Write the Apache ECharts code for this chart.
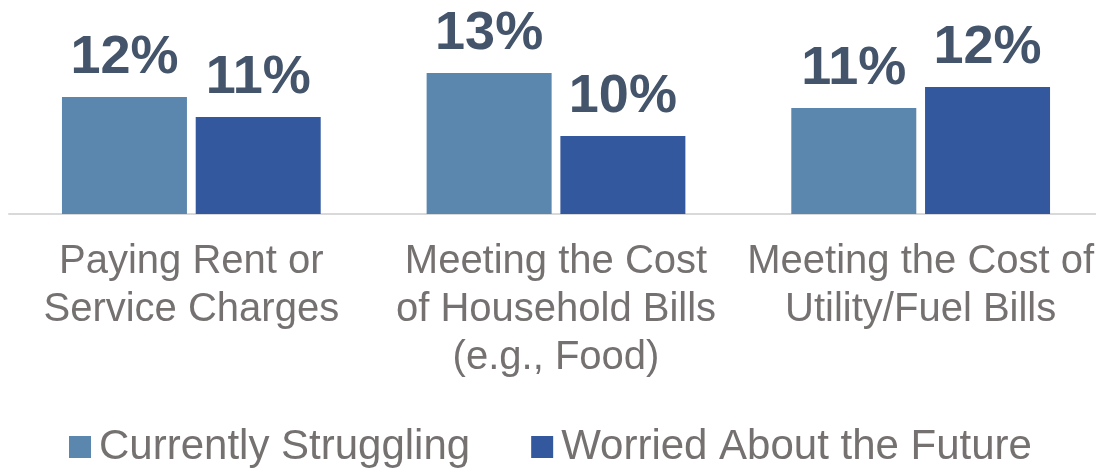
<!DOCTYPE html>
<html>
<head>
<meta charset="utf-8">
<script src="https://cdn.jsdelivr.net/npm/echarts@6/dist/echarts.min.js"></script>
<style>
html,body{margin:0;padding:0;background:#fff;overflow:hidden;}
#chart{width:1103px;height:468px;}
</style>
</head>
<body>
<div id="chart"></div>
<script>
const categories = [
  'Paying Rent or\nService Charges',
  'Meeting the Cost\nof Household Bills\n(e.g., Food)',
  'Meeting the Cost of\nUtility/Fuel Bills'
];
const seriesNames = ['Currently Struggling', 'Worried About the Future'];
const struggling = [11.85, 13.05, 11.3];
const worried = [10.85, 9.9, 12.35];

const colors = ['#5B87AF', '#34589E'];
const FONT = '"Liberation Sans", Arial, sans-serif';
const labelStyle = {
  show: true,
  position: 'top',
  distance: 12,
  fontFamily: FONT,
  fontWeight: 'bold',
  fontSize: 54,
  color: '#44546A',
  formatter: p => Math.round(p.value) + '%'
};

const chart = echarts.init(document.getElementById('chart'), null, {renderer: 'canvas'});
chart.setOption({
  animation: false,
  backgroundColor: '#ffffff',
  grid: {left: 9, right: 0, top: 14, bottom: 254, containLabel: false},
  legend: {
    data: seriesNames,
    left: 64,
    top: 421,
    itemWidth: 22,
    itemHeight: 22,
    itemGap: 61,
    icon: 'rect',
    textStyle: {
      fontFamily: FONT,
      fontSize: 42,
      color: '#767171',
      padding: [0, 0, 0, 3]
    }
  },
  xAxis: {
    type: 'category',
    data: categories,
    axisLine: {show: true, lineStyle: {color: '#D9D9D9', width: 2}},
    axisTick: {show: false},
    axisLabel: {
      interval: 0,
      margin: 24,
      fontFamily: FONT,
      fontSize: 40,
      lineHeight: 48,
      color: '#767171'
    }
  },
  yAxis: {
    type: 'value',
    min: 6,
    max: 16,
    show: false,
    splitLine: {show: false}
  },
  series: [
    {
      name: seriesNames[0],
      type: 'bar',
      data: struggling,
      barWidth: 125,
      barGap: '7%',
      itemStyle: {color: colors[0]},
      label: labelStyle
    },
    {
      name: seriesNames[1],
      type: 'bar',
      data: worried,
      barWidth: 125,
      barGap: '7%',
      itemStyle: {color: colors[1]},
      label: labelStyle
    }
  ]
});
</script>
</body>
</html>
